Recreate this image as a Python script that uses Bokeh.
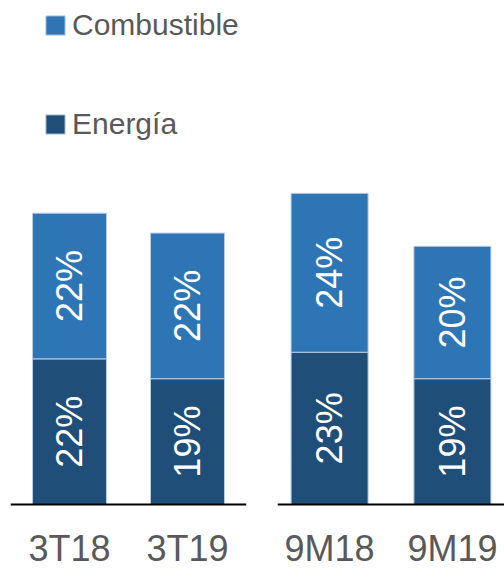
import numpy as np
from bokeh.plotting import figure
from bokeh.layouts import row
from bokeh.models import ColumnDataSource, FactorRange, Range1d, Legend, LegendItem
from bokeh.core.properties import value
from bokeh.embed import file_html
from bokeh.resources import INLINE

# ---- data ----
periods_q = ["3T18", "3T19"]
periods_m = ["9M18", "9M19"]
energia_q = [22, 19]
combustible_q = [22, 22]
energia_m = [23, 19]
combustible_m = [24, 20]
series_labels = ["Energía", "Combustible"]
series_colors = ["#1F4E79", "#2E75B6"]

FONT = "Liberation Sans"
GRAY = "#595959"

y_range = Range1d(-9.82, 76.13)


def make_panel(cats, energia, combustible, width, b_left, b_right, pad):
    e = np.array(energia, dtype=float)
    c = np.array(combustible, dtype=float)
    src = ColumnDataSource(dict(
        cat=cats, energia=e, combustible=c,
        e_mid=e / 2, c_mid=e + c / 2,
        e_lab=[f"{int(v)}%" for v in e], c_lab=[f"{int(v)}%" for v in c],
    ))
    xr = FactorRange(*cats, range_padding=pad, range_padding_units="absolute")
    p = figure(x_range=xr, y_range=y_range, width=width, height=569,
               output_backend="svg", toolbar_location=None,
               y_axis_location=None, min_border_left=b_left,
               min_border_right=b_right, min_border_top=0,
               min_border_bottom=0)
    rs = p.vbar_stack(["energia", "combustible"], x="cat", width=0.627,
                      color=series_colors, source=src,
                      line_color="#b9cde3", line_width=1)
    for ycol, tcol in (("e_mid", "e_lab"), ("c_mid", "c_lab")):
        p.text(x="cat", y=ycol, text=tcol, source=src, angle=np.pi / 2,
               text_align="center", text_baseline="middle",
               text_color="white", text_font=value(FONT),
               text_font_size="36px")
    p.xgrid.visible = False
    p.ygrid.visible = False
    p.outline_line_color = None
    ax = p.xaxis[0]
    ax.fixed_location = 0
    ax.axis_line_color = "black"
    ax.axis_line_width = 2
    ax.major_tick_line_color = None
    ax.minor_tick_line_color = None
    ax.major_label_text_font = FONT
    ax.major_label_text_font_size = "36px"
    ax.major_label_text_color = GRAY
    ax.major_label_standoff = 18
    return p, rs


p1, rs1 = make_panel(periods_q, energia_q, combustible_q, 262, 10, 16, 0)
p2, rs2 = make_panel(periods_m, energia_m, combustible_m, 242, 15, 0, -0.076)

legend = Legend(items=[LegendItem(label=series_labels[1], renderers=[rs1[1]]),
                       LegendItem(label=series_labels[0], renderers=[rs1[0]])],
                location=(33, 428), glyph_width=24, glyph_height=24,
                label_text_font=FONT, label_text_font_size="30px",
                label_text_color=GRAY, label_standoff=5, spacing=65,
                padding=0, margin=0, border_line_color=None,
                background_fill_alpha=0)
p1.add_layout(legend)

layout = row(p1, p2)
open("out.html", "w").write(file_html(layout, INLINE))
